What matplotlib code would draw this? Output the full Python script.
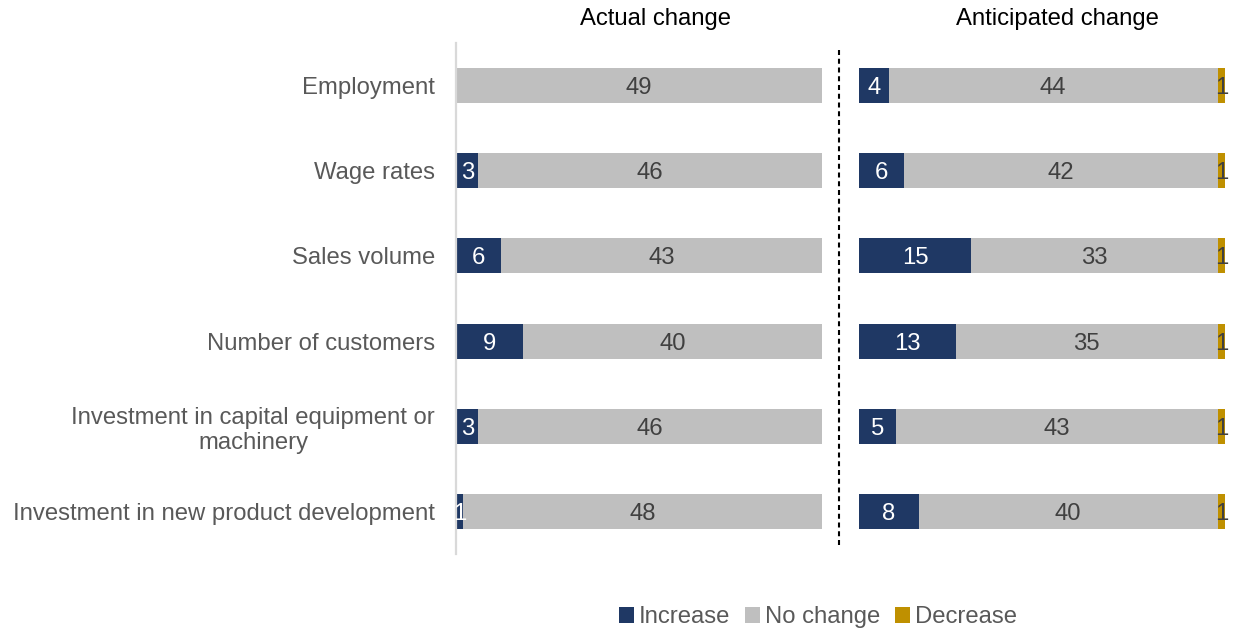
import matplotlib
matplotlib.use("Agg")
import matplotlib.pyplot as plt
from matplotlib.lines import Line2D
from matplotlib.patches import Patch

plt.rcParams['font.family'] = ['Liberation Sans', 'DejaVu Sans']

categories = [
    "Employment",
    "Wage rates",
    "Sales volume",
    "Number of customers",
    "Investment in capital equipment or\nmachinery",
    "Investment in new product development",
]

actual_increase = [0, 3, 6, 9, 3, 1]
actual_no_change = [49, 46, 43, 40, 46, 48]
actual_decrease = [0, 0, 0, 0, 0, 0]

anticipated_increase = [4, 6, 15, 13, 5, 8]
anticipated_no_change = [44, 42, 33, 35, 43, 40]
anticipated_decrease = [1, 1, 1, 1, 1, 1]

series_names = ["Increase", "No change", "Decrease"]
colors = ["#1F3864", "#BFBFBF", "#BF9000"]
label_colors = ["white", "#404040", "#404040"]
text_gray = "#595959"
FS = 17.2

W, H = 1233, 629
fig = plt.figure(figsize=(W / 100, H / 100), dpi=100)

bottom = 1 - 554 / H
height = (554 - 43) / H
ax_left = fig.add_axes([456 / W, bottom, 366 / W, height])
ax_right = fig.add_axes([859 / W, bottom, 366 / W, height])

ypos = list(range(len(categories)))


def draw_panel(ax, inc, nc, dec):
    starts = [0] * len(categories)
    for vals, col, lcol in zip([inc, nc, dec], colors, label_colors):
        ax.barh(ypos, vals, left=starts, height=0.41, color=col, edgecolor='none')
        for y, s, v in zip(ypos, starts, vals):
            if v > 0:
                ax.text(s + v / 2, y, f"{v}", ha='center', va='center_baseline',
                        color=lcol, fontsize=FS)
        starts = [s + v for s, v in zip(starts, vals)]
    ax.set_xlim(0, 49)
    ax.set_ylim(len(categories) - 0.5, -0.5)
    ax.set_xticks([])
    for side in ['top', 'right', 'bottom', 'left']:
        ax.spines[side].set_visible(False)
    ax.tick_params(axis='y', length=0)


draw_panel(ax_left, actual_increase, actual_no_change, actual_decrease)
draw_panel(ax_right, anticipated_increase, anticipated_no_change, anticipated_decrease)

ax_left.spines['left'].set_visible(True)
ax_left.spines['left'].set_color('#D9D9D9')
ax_left.spines['left'].set_linewidth(1.6)
ax_left.set_yticks(ypos)
ax_left.set_yticklabels(categories, fontsize=FS, color=text_gray)
ax_left.tick_params(axis='y', pad=15)
for lab in ax_left.get_yticklabels():
    lab.set_multialignment('center')
ax_right.set_yticks([])

fig.text(655 / W, 1 - 19 / H, "Actual change", ha='center', va='center',
         fontsize=FS, color='black')
fig.text(1057 / W, 1 - 19 / H, "Anticipated change", ha='center', va='center',
         fontsize=FS, color='black')

# dashed divider between the two panels
fig.add_artist(Line2D([839 / W, 839 / W], [1 - 50 / H, 1 - 548 / H],
                      transform=fig.transFigure, color='black', lw=1.5,
                      linestyle=(0, (2.4, 1.8))))

handles = [Patch(facecolor=c, edgecolor='none') for c in colors]
leg = fig.legend(handles, series_names, loc='center', ncol=3,
                 bbox_to_anchor=(818 / W, 1 - 617 / H), frameon=False,
                 fontsize=FS, handlelength=0.65, handleheight=0.65,
                 handletextpad=0.2, columnspacing=0.6, borderaxespad=0)
for t in leg.get_texts():
    t.set_color(text_gray)

fig.savefig("out.png", dpi=100)
